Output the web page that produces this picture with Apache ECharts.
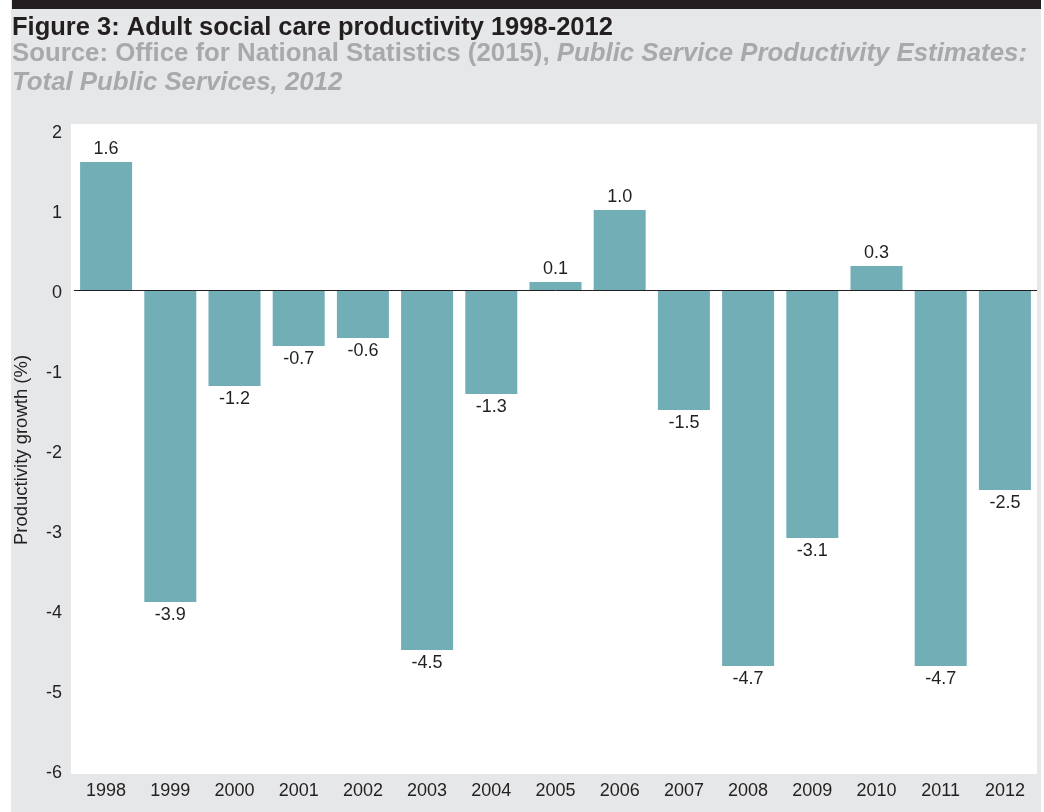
<!DOCTYPE html>
<html>
<head>
<meta charset="utf-8">
<script src="https://cdn.jsdelivr.net/npm/echarts@6/dist/echarts.min.js"></script>
<style>html,body{margin:0;padding:0;background:#fff;}#c{width:1044px;height:812px;}</style>
</head>
<body>
<div id="c"></div>
<script>
const years = ['1998','1999','2000','2001','2002','2003','2004','2005','2006','2007','2008','2009','2010','2011','2012'];
const growth = [1.6, -3.9, -1.2, -0.7, -0.6, -4.5, -1.3, 0.1, 1.0, -1.5, -4.7, -3.1, 0.3, -4.7, -2.5];
const yTicks = [2, 1, 0, -1, -2, -3, -4, -5, -6];

const FONT = '"Liberation Sans", Arial, Helvetica, sans-serif';
const TXT = '#231f20';
const chart = echarts.init(document.getElementById('c'), null, {renderer: 'canvas'});
chart.setOption({
  backgroundColor: '#ffffff',
  animation: false,
  textStyle: {fontFamily: FONT},
  graphic: [
    {type: 'rect', z: -20, shape: {x: 11, y: 0, width: 1030, height: 812}, style: {fill: '#e6e7e8'}},
    {type: 'rect', z: -19, shape: {x: 12, y: 0, width: 1029, height: 9}, style: {fill: '#231f20'}},
    {type: 'rect', z: -18, shape: {x: 71, y: 124, width: 966, height: 650}, style: {fill: '#ffffff'}},
    {type: 'text', z: 10, left: 12, top: 15, style: {text: 'Figure 3: Adult social care productivity 1998-2012', font: 'bold 25.5px ' + FONT, fill: TXT}},
    {type: 'text', z: 10, left: 12, top: 41, style: {
      text: '{n|Source: Office for National Statistics (2015), }{i|Public Service Productivity Estimates:}\n{i|Total Public Services, 2012}',
      rich: {
        n: {fontFamily: FONT, fontWeight: 'bold', fontSize: 25.8, fill: '#a7a9ac', lineHeight: 29},
        i: {fontFamily: FONT, fontWeight: 'bold', fontStyle: 'italic', fontSize: 25.8, fill: '#a7a9ac', lineHeight: 29}
      }
    }}
  ],
  grid: {left: 74, right: 7, top: 130, bottom: 42, containLabel: false},
  xAxis: {
    type: 'category',
    data: years,
    axisLine: {show: false, onZero: false},
    axisTick: {show: false},
    axisLabel: {color: TXT, fontSize: 18, margin: 12, fontFamily: FONT},
    splitLine: {show: false}
  },
  yAxis: {
    type: 'value',
    min: -6, max: 2, interval: 1,
    name: 'Productivity growth (%)',
    nameLocation: 'middle',
    nameRotate: 90,
    nameGap: 43,
    nameTextStyle: {color: TXT, fontSize: 18.5, fontFamily: FONT},
    axisLine: {show: false},
    axisTick: {show: false},
    splitLine: {show: false},
    axisLabel: {color: TXT, fontSize: 18, margin: 12, fontFamily: FONT, verticalAlign: 'top', lineHeight: 7,
      formatter: v => (yTicks.indexOf(v) >= 0 ? String(v) : '')}
  },
  series: [{
    type: 'bar',
    barCategoryGap: '19%',
    itemStyle: {color: '#71aeb5'},
    data: growth.map(v => ({value: v, label: {position: v >= 0 ? 'top' : 'bottom'}})),
    label: {show: true, color: TXT, fontSize: 18, distance: 4, fontFamily: FONT,
      formatter: p => p.value.toFixed(1)},
    markLine: {
      silent: true, symbol: 'none', label: {show: false},
      lineStyle: {color: '#231f20', width: 1, type: 'solid'},
      data: [{yAxis: 0}]
    },
    z: 2
  }]
});
</script>
</body>
</html>
